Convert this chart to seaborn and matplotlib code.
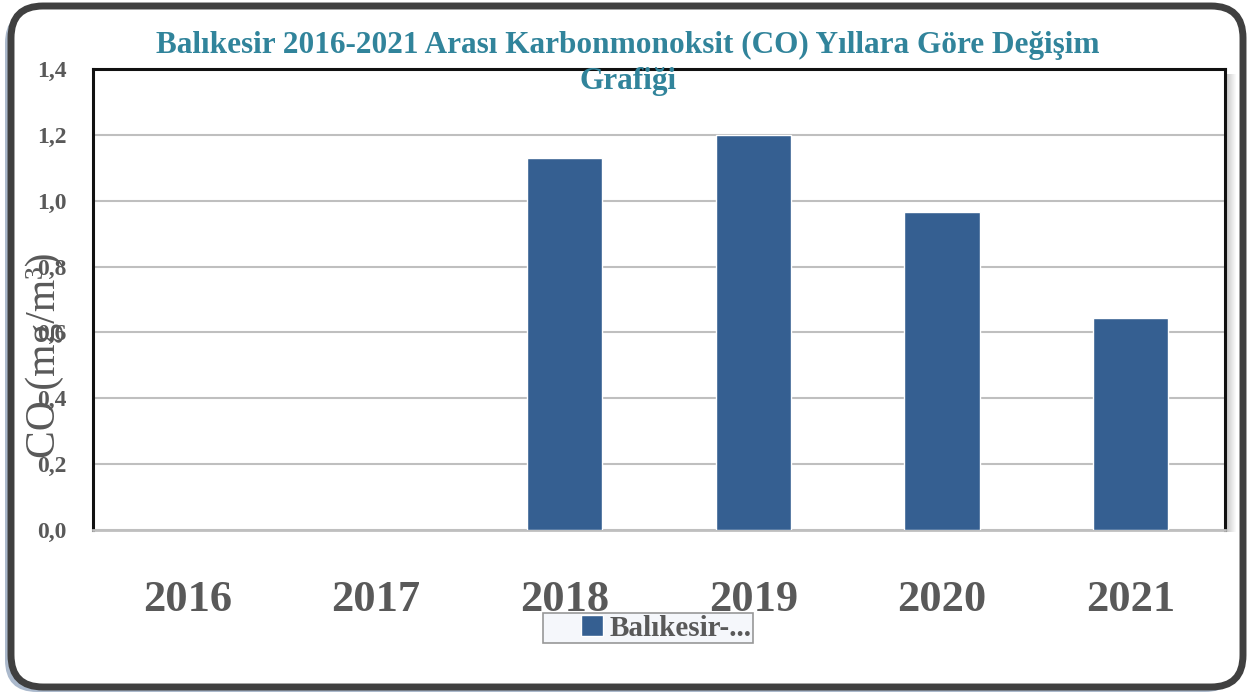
import numpy as np
import pandas as pd
import matplotlib
matplotlib.use("Agg")
import matplotlib.pyplot as plt
from matplotlib.patches import FancyBboxPatch, Rectangle
from matplotlib.container import BarContainer
from matplotlib.legend_handler import HandlerPatch, update_from_first_child
import seaborn as sns

# Data
years = ["2016", "2017", "2018", "2019", "2020", "2021"]
co_values = [np.nan, np.nan, 1.13, 1.20, 0.965, 0.645]
series_name = "Balıkesir-..."
y_ticks = [0.0, 0.2, 0.4, 0.6, 0.8, 1.0, 1.2, 1.4]
y_tick_labels = ["0,0", "0,2", "0,4", "0,6", "0,8", "1,0", "1,2", "1,4"]
title_text = "Balıkesir 2016-2021 Arası Karbonmonoksit (CO) Yıllara Göre Değişim\nGrafiği"
ylabel_text = "CO (mg/m³)"

df = pd.DataFrame({"Yıl": years, "CO": co_values})

sns.set_theme(style="white")
plt.rcParams["font.family"] = ["Liberation Serif", "DejaVu Serif"]

W, H = 1250, 693
fig = plt.figure(figsize=(W / 100, H / 100), dpi=100)
fig.patch.set_facecolor("white")

# Background layer in pixel coordinates: rounded frame with shadow
bg = fig.add_axes([0, 0, 1, 1], zorder=-1)
bg.set_xlim(0, W)
bg.set_ylim(H, 0)
bg.axis("off")
bg.add_patch(FancyBboxPatch((5, 11), 1232, 681, boxstyle="round,pad=0,rounding_size=32",
                            fc="#8FA2BC", ec="none", alpha=0.75))
bg.add_patch(FancyBboxPatch((11, 6), 1232, 681, boxstyle="round,pad=0,rounding_size=32",
                            fc="white", ec="#404040", lw=5))
# soft shadow at the right of the plot area
for i in range(10):
    bg.add_patch(Rectangle((1226 + i, 74), 1, 458, fc="black", ec="none",
                           alpha=0.22 * (1 - i / 10)))

# Main plot area
ax = fig.add_axes([93 / W, 1 - 530 / H, 1132 / W, 461 / H])
ax.set_facecolor("white")
sns.barplot(data=df, x="Yıl", y="CO", order=years, color="#355F91", width=0.4,
            saturation=1, label=series_name, ax=ax, zorder=3)

ax.set_ylim(0, 1.4)
ax.set_xlim(-0.5, 5.5)
ax.set_yticks(y_ticks)
ax.set_yticklabels(y_tick_labels)
ax.yaxis.grid(True, color="#BFBFBF", lw=1.5, zorder=0)
ax.set_axisbelow(True)
ax.set_xlabel("")
ax.set_ylabel("")

for side in ["left", "top", "right"]:
    ax.spines[side].set_color("#111111")
    ax.spines[side].set_linewidth(2.2)
ax.spines["bottom"].set_color("#BFBFBF")
ax.spines["bottom"].set_linewidth(2)

ax.tick_params(axis="y", length=0, pad=19, labelsize=17, labelcolor="#595959")
for lab in ax.get_yticklabels():
    lab.set_fontweight("bold")
ax.tick_params(axis="x", which="major", length=0, pad=36, labelsize=32, labelcolor="#595959")
for lab in ax.get_xticklabels():
    lab.set_fontweight("bold")
ax.set_xticks(np.arange(-0.5, 6.0, 1.0), minor=True)
ax.tick_params(axis="x", which="minor", length=11, width=1.5, color="#D0D0D0", direction="out")

fig.text(628 / W, 1 - 31 / H, title_text, ha="center", va="top", fontsize=22.5,
         fontweight="bold", color="#31849B", linespacing=1.3)

fig.text(45 / W, 1 - 355 / H, ylabel_text, rotation=90, ha="center", va="center",
         fontsize=30, color="#595959")


def square_at_right(legend, orig_handle, xdescent, ydescent, width, height, fontsize):
    s = 0.75 * fontsize
    return Rectangle((width - xdescent - s, -ydescent + (height - s) / 2), s, s)


square_handler = HandlerPatch(patch_func=square_at_right, update_func=update_from_first_child)
leg = ax.legend(loc="center", bbox_to_anchor=(648 / W, 1 - 628 / H),
                bbox_transform=fig.transFigure, frameon=True, fancybox=False,
                fontsize=21, handlelength=2.0, handleheight=0.8, handletextpad=0.25,
                borderpad=0.05, borderaxespad=0,
                handler_map={BarContainer: square_handler})
leg.get_frame().set_facecolor("#F3F5FB")
leg.get_frame().set_edgecolor("#7F7F7F")
leg.get_frame().set_linewidth(1.2)
for t in leg.get_texts():
    t.set_fontweight("bold")
    t.set_color("#595959")

fig.savefig("out.png", dpi=100, facecolor="white")
